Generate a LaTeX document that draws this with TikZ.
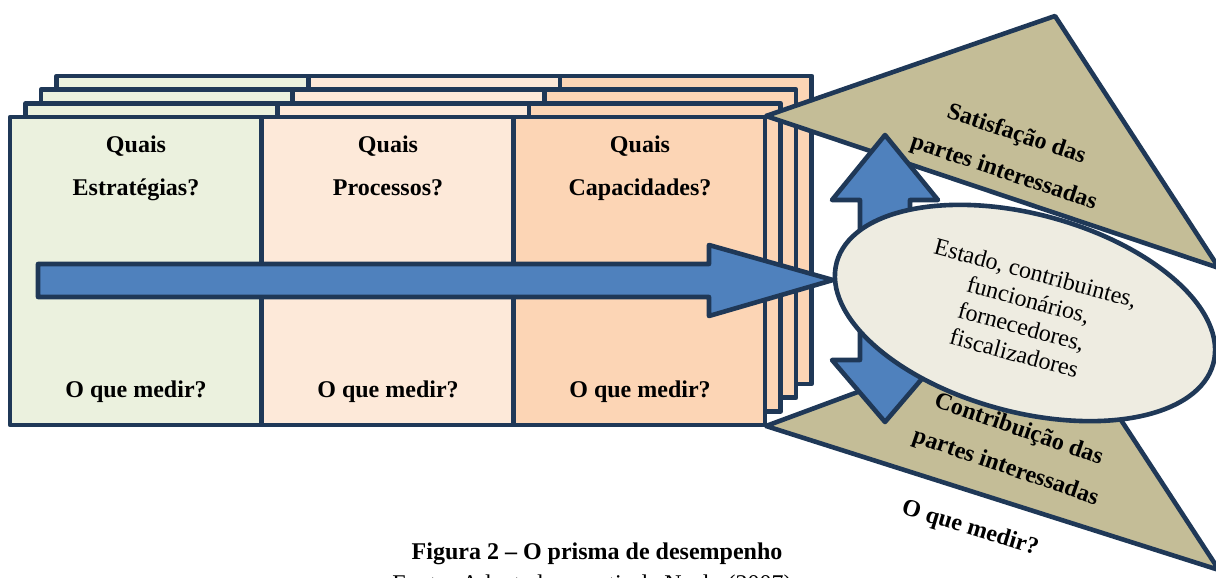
\documentclass[tikz,border=0pt]{standalone}
\usepackage{fontspec}
\setmainfont{Liberation Serif}
\definecolor{navy}{RGB}{31,56,87}
\definecolor{arrowblue}{RGB}{79,129,189}
\definecolor{olivetan}{RGB}{196,189,151}
\definecolor{paleshell}{RGB}{238,236,225}
\definecolor{palegreen}{RGB}{235,241,222}
\definecolor{lightpeach}{RGB}{253,233,217}
\definecolor{peach}{RGB}{252,213,181}
\usetikzlibrary{shapes.geometric}

\begin{document}
\begin{tikzpicture}[x=0.5pt,y=-0.5pt,
    line width=2.3pt, line join=round,
    every node/.style={font=\fontsize{12}{20}\selectfont\bfseries,inner sep=0pt},
    cell/.style={draw=navy},
    block/.style={draw=navy,fill=arrowblue},
    wedge/.style={draw=navy,fill=olivetan}
    ]
    \useasboundingbox (0,0) rectangle (1216,578);

    % stacked layers, back to front
    \foreach \k in {3,2,1,0} {
        \draw[cell,fill=palegreen] ({10+15.5*\k},{117-13.7*\k}) rectangle ++(251.7,308);
        \draw[cell,fill=lightpeach] ({261.7+15.5*\k},{117-13.7*\k}) rectangle ++(251.7,308);
        \draw[cell,fill=peach] ({513.4+15.5*\k},{117-13.7*\k}) rectangle ++(251.7,308);
    }

    % the two triangles
    \draw[wedge] (766,116) -- (1055,16) -- (1219,268) -- cycle;
    \draw[wedge] (766,426) -- (1055,319) -- (1219,570) -- cycle;

    % the arrows
    \draw[block] (38,264) -- (709,264) -- (709,245) -- (833,280) -- (709,316) -- (709,297) -- (38,297) -- cycle;
    \draw[block] (885,135) -- (938,200) -- (910,200) -- (910,360) -- (938,360) -- (885,422)
        -- (832,360) -- (860,360) -- (860,200) -- (832,200) -- cycle;

    \node (parts) [ellipse,draw=navy,fill=paleshell,minimum width=195pt,minimum height=99pt,
        rotate=-15,align=center,font=\fontsize{12}{13.8}\selectfont] at (1025,313)
        {Estado, contribuintes,\\funcionários,\\fornecedores,\\fiscalizadores};

    \node (sat) [rotate=-18.5,align=center] at (1010,154) {Satisfação das\\partes interessadas};
    \node (contrib) [rotate=-19,align=center] at (1012,449) {Contribuição das\\partes interessadas};
    \node (medirP) [rotate=-17] at (970,529) {O que medir?};

    % column texts
    \node (quaisA) [anchor=base] at (136,152) {Quais};
    \node (estrat) [anchor=base] at (136,195) {Estratégias?};
    \node (medirA) [anchor=base] at (136,397) {O que medir?};
    \node (quaisB) [anchor=base] at (388,152) {Quais};
    \node (proc) [anchor=base] at (388,195) {Processos?};
    \node (medirB) [anchor=base] at (388,397) {O que medir?};
    \node (quaisC) [anchor=base] at (640,152) {Quais};
    \node (capac) [anchor=base] at (640,195) {Capacidades?};
    \node (medirC) [anchor=base] at (640,397) {O que medir?};

    % caption
    \node (fig) [anchor=base] at (597,559) {Figura 2 – O prisma de desempenho};
    \node (fonte) [anchor=base,font=\fontsize{12}{14}\selectfont] at (592,591) {Fonte: Adaptado a partir de Neely (2007)};
\end{tikzpicture}
\end{document}
